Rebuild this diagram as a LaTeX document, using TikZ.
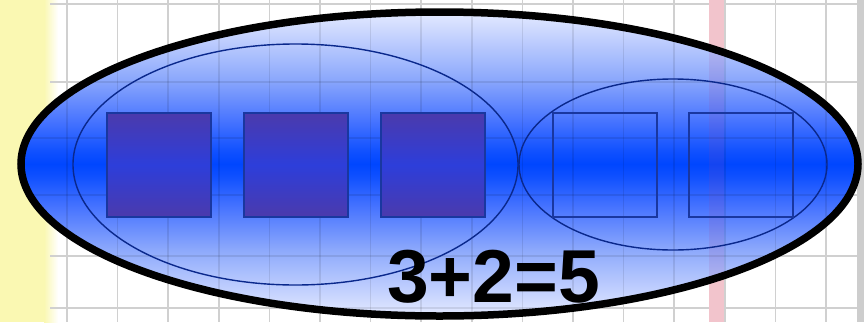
\documentclass[tikz,border=0pt]{standalone}
\usepackage{fontspec}
\setmainfont{Liberation Sans}
\definecolor{yel}{RGB}{250,248,178}
\definecolor{gridc}{RGB}{208,208,208}
\definecolor{pinkc}{RGB}{242,196,204}
\definecolor{pinkin}{RGB}{170,60,140}
\definecolor{graybar}{RGB}{205,205,205}
\definecolor{navyc}{RGB}{10,40,140}
\definecolor{sqedge}{RGB}{25,55,160}
\definecolor{sqtop}{RGB}{75,58,172}
\definecolor{sqmid}{RGB}{45,62,218}
\definecolor{elltop}{RGB}{228,234,255}
\definecolor{ellsoft}{RGB}{140,168,252}
\definecolor{ellmid}{RGB}{70,115,255}
\definecolor{ellnear}{RGB}{15,80,255}
\definecolor{ellcore}{RGB}{0,70,255}
\pgfdeclareverticalshading{ellblue}{100bp}{color(0bp)=(elltop); color(25bp)=(elltop); color(36bp)=(ellsoft); color(43bp)=(ellmid); color(48bp)=(ellnear); color(50bp)=(ellcore); color(52bp)=(ellnear); color(57bp)=(ellmid); color(64bp)=(ellsoft); color(75bp)=(elltop); color(100bp)=(elltop)}
\tikzset{
  gridline/.style={gridc, line width=1.5pt},
  innerell/.style={navyc, line width=1.4pt},
  fullsq/.style={draw=sqedge, line width=1.2pt, minimum size=104pt, inner sep=0pt, shade, top color=sqtop, bottom color=sqtop, middle color=sqmid},
  emptysq/.style={draw=sqedge, line width=1.2pt, minimum size=104pt, inner sep=0pt},
}
\begin{document}
\begin{tikzpicture}[x=1pt,y=-1pt]
\useasboundingbox (0,0) rectangle (864,322);
\fill[white] (0,0) rectangle (864,322);
% yellow strip
\shade[left color=yel, right color=white] (44,0) rectangle (58,322);
\fill[yel] (0,0) rectangle (45,322);
% grid
\foreach \k in {0,...,15} \draw[gridline] ({67+50.6*\k},0) -- ({67+50.6*\k},322);
\foreach \yy in {4,82,138,195,256,308} \draw[gridline] (50,\yy) -- (864,\yy);
\fill[pinkc] (709,0) rectangle (724,322);
\fill[graybar] (857,0) rectangle (864,322);
% outer ellipse fill
\shade[shading=ellblue] (439.5,164) ellipse [x radius=418.5pt, y radius=152pt];
\begin{scope}
\clip (439.5,164) ellipse [x radius=418.5pt, y radius=152pt];
\foreach \k in {0,...,15} \draw[black, opacity=0.09, line width=1.5pt] ({67+50.6*\k},0) -- ({67+50.6*\k},322);
\foreach \yy in {4,82,138,195,256,308} \draw[black, opacity=0.09, line width=1.5pt] (0,\yy) -- (864,\yy);
\fill[pinkin, opacity=0.12] (709,0) rectangle (724,322);
\end{scope}
% inner ellipses
\draw[innerell] (295.5,164.5) ellipse [x radius=222.5pt, y radius=120.5pt];
\draw[innerell] (673,164.5) ellipse [x radius=154pt, y radius=85.5pt];
% squares
\node[fullsq] (s1) at (159,165) {};
\node[fullsq] (s2) at (296,165) {};
\node[fullsq] (s3) at (433,165) {};
\node[emptysq] (s4) at (605,165) {};
\node[emptysq] (s5) at (741,165) {};
% text
\node[anchor=base, inner sep=0pt, font=\bfseries\fontsize{75}{75}\selectfont] (eq) at (493.5,302) {3+2=5};
% outer border
\draw[black, line width=7.5pt] (439.5,164) ellipse [x radius=418.5pt, y radius=152pt];
\end{tikzpicture}
\end{document}
